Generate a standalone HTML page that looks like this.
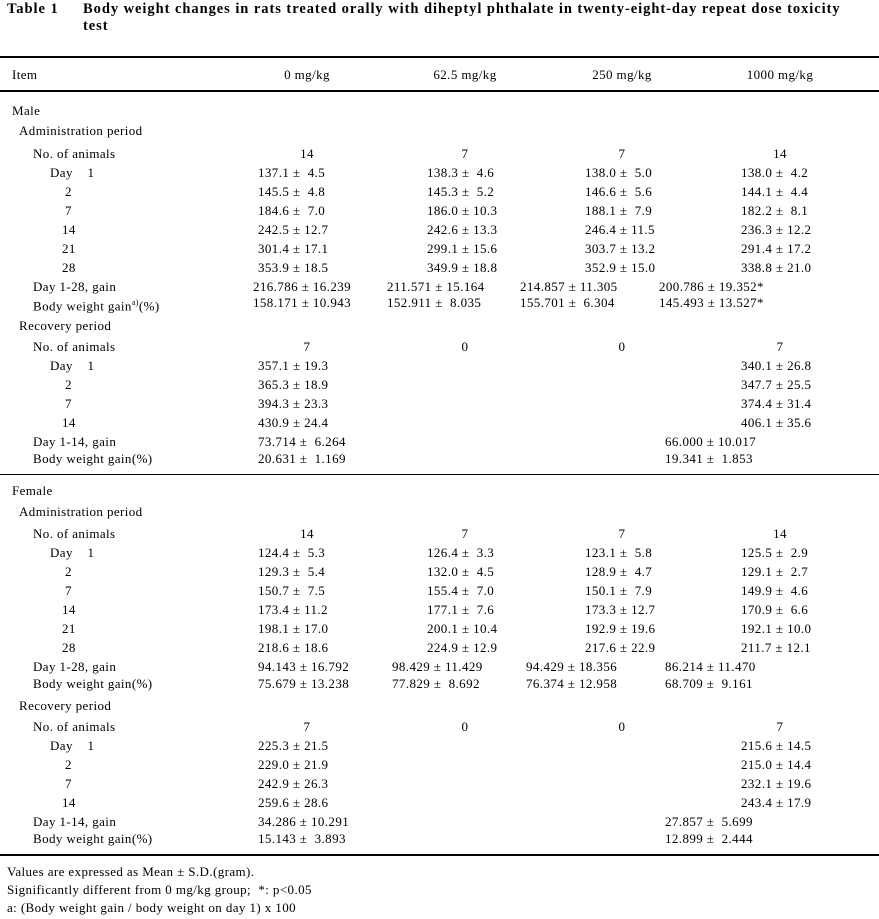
<!DOCTYPE html>
<html><head><meta charset="utf-8"><style>
body{margin:0;width:879px;height:919px;background:#fff;position:relative;overflow:hidden;font-family:"Liberation Serif","Noto Serif CJK SC",serif;font-size:13px;color:#000;letter-spacing:0.4px}
div,span{position:absolute;white-space:pre;line-height:16px}
.ln{left:0;width:879px;background:#000}
.n{text-align:center;width:60px}
.t{font-weight:bold;font-size:14.5px;letter-spacing:0.95px}
</style></head><body>
<div class="t" style="left:7px;top:1px">Table 1</div>
<div class="t" style="left:83px;top:1px">Body weight changes in rats treated orally with diheptyl phthalate in twenty-eight-day repeat dose toxicity</div>
<div class="t" style="left:83px;top:18px">test</div>
<div class="ln" style="top:56px;height:2px"></div>
<div style="left:12px;top:67px">Item</div>
<div class="n" style="left:262px;top:67px;width:90px">0 mg/kg</div>
<div class="n" style="left:420px;top:67px;width:90px">62.5 mg/kg</div>
<div class="n" style="left:577px;top:67px;width:90px">250 mg/kg</div>
<div class="n" style="left:735px;top:67px;width:90px">1000 mg/kg</div>
<div class="ln" style="top:90px;height:2px"></div>

<div style="left:12px;top:103px">Male</div>
<div style="left:19px;top:123px">Administration period</div>
<div style="left:33px;top:146px">No. of animals</div>
<span class="n" style="left:277px;top:146px">14</span><span class="n" style="left:435px;top:146px">7</span><span class="n" style="left:592px;top:146px">7</span><span class="n" style="left:750px;top:146px">14</span>
<div style="left:50px;top:165px">Day    1</div>
<span style="left:258px;top:165px">137.1 ±  4.5</span><span style="left:427px;top:165px">138.3 ±  4.6</span><span style="left:585px;top:165px">138.0 ±  5.0</span><span style="left:741px;top:165px">138.0 ±  4.2</span>
<div style="left:65px;top:184px">2</div>
<span style="left:258px;top:184px">145.5 ±  4.8</span><span style="left:427px;top:184px">145.3 ±  5.2</span><span style="left:585px;top:184px">146.6 ±  5.6</span><span style="left:741px;top:184px">144.1 ±  4.4</span>
<div style="left:65px;top:203px">7</div>
<span style="left:258px;top:203px">184.6 ±  7.0</span><span style="left:427px;top:203px">186.0 ± 10.3</span><span style="left:585px;top:203px">188.1 ±  7.9</span><span style="left:741px;top:203px">182.2 ±  8.1</span>
<div style="left:62px;top:222px">14</div>
<span style="left:258px;top:222px">242.5 ± 12.7</span><span style="left:427px;top:222px">242.6 ± 13.3</span><span style="left:585px;top:222px">246.4 ± 11.5</span><span style="left:741px;top:222px">236.3 ± 12.2</span>
<div style="left:62px;top:241px">21</div>
<span style="left:258px;top:241px">301.4 ± 17.1</span><span style="left:427px;top:241px">299.1 ± 15.6</span><span style="left:585px;top:241px">303.7 ± 13.2</span><span style="left:741px;top:241px">291.4 ± 17.2</span>
<div style="left:62px;top:260px">28</div>
<span style="left:258px;top:260px">353.9 ± 18.5</span><span style="left:427px;top:260px">349.9 ± 18.8</span><span style="left:585px;top:260px">352.9 ± 15.0</span><span style="left:741px;top:260px">338.8 ± 21.0</span>
<div style="left:33px;top:279px">Day 1-28, gain</div>
<span style="left:253px;top:279px">216.786 ± 16.239</span><span style="left:387px;top:279px">211.571 ± 15.164</span><span style="left:520px;top:279px">214.857 ± 11.305</span><span style="left:659px;top:279px">200.786 ± 19.352*</span>
<div style="left:33px;top:295px">Body weight gain<sup style="font-size:8px">a)</sup>(%)</div>
<span style="left:253px;top:295px">158.171 ± 10.943</span><span style="left:387px;top:295px">152.911 ±  8.035</span><span style="left:520px;top:295px">155.701 ±  6.304</span><span style="left:659px;top:295px">145.493 ± 13.527*</span>
<div style="left:19px;top:318px">Recovery period</div>
<div style="left:33px;top:339px">No. of animals</div>
<span class="n" style="left:277px;top:339px">7</span><span class="n" style="left:435px;top:339px">0</span><span class="n" style="left:592px;top:339px">0</span><span class="n" style="left:750px;top:339px">7</span>
<div style="left:50px;top:358px">Day    1</div>
<span style="left:258px;top:358px">357.1 ± 19.3</span><span style="left:741px;top:358px">340.1 ± 26.8</span>
<div style="left:65px;top:377px">2</div>
<span style="left:258px;top:377px">365.3 ± 18.9</span><span style="left:741px;top:377px">347.7 ± 25.5</span>
<div style="left:65px;top:396px">7</div>
<span style="left:258px;top:396px">394.3 ± 23.3</span><span style="left:741px;top:396px">374.4 ± 31.4</span>
<div style="left:62px;top:415px">14</div>
<span style="left:258px;top:415px">430.9 ± 24.4</span><span style="left:741px;top:415px">406.1 ± 35.6</span>
<div style="left:33px;top:434px">Day 1-14, gain</div>
<span style="left:258px;top:434px">73.714 ±  6.264</span><span style="left:665px;top:434px">66.000 ± 10.017</span>
<div style="left:33px;top:451px">Body weight gain(%)</div>
<span style="left:258px;top:451px">20.631 ±  1.169</span><span style="left:665px;top:451px">19.341 ±  1.853</span>
<div class="ln" style="top:474px;height:1px"></div>

<div style="left:12px;top:483px">Female</div>
<div style="left:19px;top:504px">Administration period</div>
<div style="left:33px;top:526px">No. of animals</div>
<span class="n" style="left:277px;top:526px">14</span><span class="n" style="left:435px;top:526px">7</span><span class="n" style="left:592px;top:526px">7</span><span class="n" style="left:750px;top:526px">14</span>
<div style="left:50px;top:545px">Day    1</div>
<span style="left:258px;top:545px">124.4 ±  5.3</span><span style="left:427px;top:545px">126.4 ±  3.3</span><span style="left:585px;top:545px">123.1 ±  5.8</span><span style="left:741px;top:545px">125.5 ±  2.9</span>
<div style="left:65px;top:564px">2</div>
<span style="left:258px;top:564px">129.3 ±  5.4</span><span style="left:427px;top:564px">132.0 ±  4.5</span><span style="left:585px;top:564px">128.9 ±  4.7</span><span style="left:741px;top:564px">129.1 ±  2.7</span>
<div style="left:65px;top:583px">7</div>
<span style="left:258px;top:583px">150.7 ±  7.5</span><span style="left:427px;top:583px">155.4 ±  7.0</span><span style="left:585px;top:583px">150.1 ±  7.9</span><span style="left:741px;top:583px">149.9 ±  4.6</span>
<div style="left:62px;top:602px">14</div>
<span style="left:258px;top:602px">173.4 ± 11.2</span><span style="left:427px;top:602px">177.1 ±  7.6</span><span style="left:585px;top:602px">173.3 ± 12.7</span><span style="left:741px;top:602px">170.9 ±  6.6</span>
<div style="left:62px;top:621px">21</div>
<span style="left:258px;top:621px">198.1 ± 17.0</span><span style="left:427px;top:621px">200.1 ± 10.4</span><span style="left:585px;top:621px">192.9 ± 19.6</span><span style="left:741px;top:621px">192.1 ± 10.0</span>
<div style="left:62px;top:640px">28</div>
<span style="left:258px;top:640px">218.6 ± 18.6</span><span style="left:427px;top:640px">224.9 ± 12.9</span><span style="left:585px;top:640px">217.6 ± 22.9</span><span style="left:741px;top:640px">211.7 ± 12.1</span>
<div style="left:33px;top:659px">Day 1-28, gain</div>
<span style="left:258px;top:659px">94.143 ± 16.792</span><span style="left:392px;top:659px">98.429 ± 11.429</span><span style="left:526px;top:659px">94.429 ± 18.356</span><span style="left:665px;top:659px">86.214 ± 11.470</span>
<div style="left:33px;top:676px">Body weight gain(%)</div>
<span style="left:258px;top:676px">75.679 ± 13.238</span><span style="left:392px;top:676px">77.829 ±  8.692</span><span style="left:526px;top:676px">76.374 ± 12.958</span><span style="left:665px;top:676px">68.709 ±  9.161</span>
<div style="left:19px;top:698px">Recovery period</div>
<div style="left:33px;top:719px">No. of animals</div>
<span class="n" style="left:277px;top:719px">7</span><span class="n" style="left:435px;top:719px">0</span><span class="n" style="left:592px;top:719px">0</span><span class="n" style="left:750px;top:719px">7</span>
<div style="left:50px;top:738px">Day    1</div>
<span style="left:258px;top:738px">225.3 ± 21.5</span><span style="left:741px;top:738px">215.6 ± 14.5</span>
<div style="left:65px;top:757px">2</div>
<span style="left:258px;top:757px">229.0 ± 21.9</span><span style="left:741px;top:757px">215.0 ± 14.4</span>
<div style="left:65px;top:776px">7</div>
<span style="left:258px;top:776px">242.9 ± 26.3</span><span style="left:741px;top:776px">232.1 ± 19.6</span>
<div style="left:62px;top:795px">14</div>
<span style="left:258px;top:795px">259.6 ± 28.6</span><span style="left:741px;top:795px">243.4 ± 17.9</span>
<div style="left:33px;top:814px">Day 1-14, gain</div>
<span style="left:258px;top:814px">34.286 ± 10.291</span><span style="left:665px;top:814px">27.857 ±  5.699</span>
<div style="left:33px;top:831px">Body weight gain(%)</div>
<span style="left:258px;top:831px">15.143 ±  3.893</span><span style="left:665px;top:831px">12.899 ±  2.444</span>
<div class="ln" style="top:854px;height:2px"></div>

<div style="left:7px;top:864px">Values are expressed as Mean ± S.D.(gram).</div>
<div style="left:7px;top:882px">Significantly different from 0 mg/kg group;  *: p&lt;0.05</div>
<div style="left:7px;top:900px">a: (Body weight gain / body weight on day 1) x 100</div>
</body></html>
